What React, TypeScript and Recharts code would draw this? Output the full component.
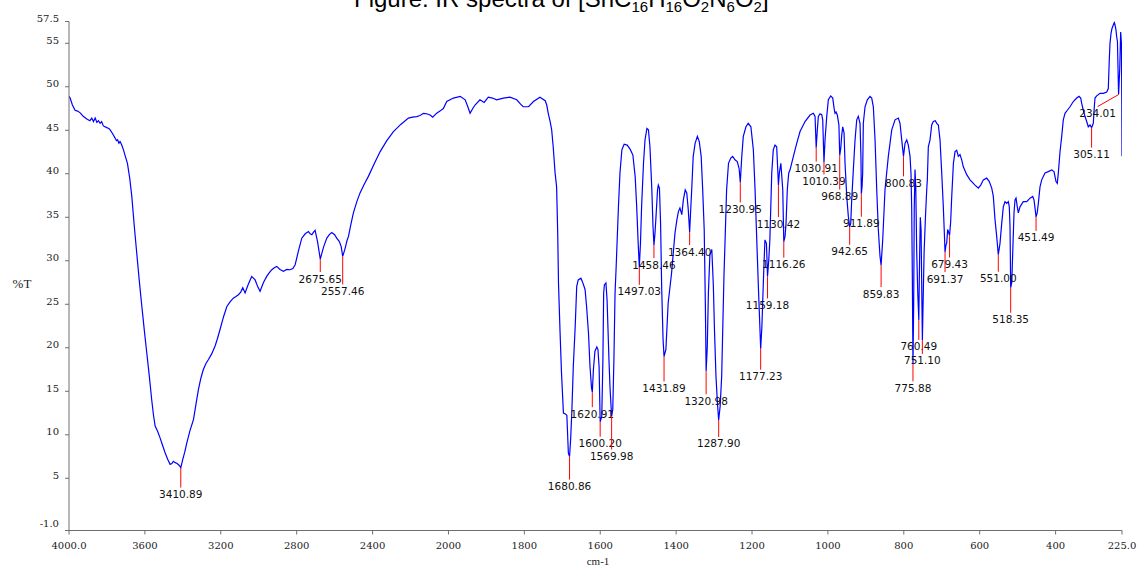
import React from 'react';
import { ComposedChart, Line, Scatter, XAxis, YAxis } from 'recharts';

// ---------- DATA ----------
const wavenumbers: number[] = [
  4000, 3994, 3982, 3968, 3955, 3941, 3925, 3906, 3890, 3880, 3871, 3862, 3853, 3845, 3836, 3828, 3819, 3801, 3790, 3783,
  3770, 3757, 3750, 3744, 3737, 3731, 3722, 3713, 3703, 3692, 3680, 3669, 3656, 3643, 3630, 3616, 3603, 3590, 3577, 3564,
  3555, 3546, 3533, 3520, 3507, 3493, 3480, 3467, 3458, 3450, 3440, 3430, 3420, 3410.89, 3400, 3390, 3379, 3362, 3344, 3330,
  3318, 3305, 3292, 3278, 3265, 3248, 3230, 3217, 3204, 3185, 3168, 3150, 3134, 3120, 3107, 3095, 3084, 3072, 3055, 3037,
  3028, 3019, 3005, 2993, 2975, 2958, 2945, 2931, 2918, 2905, 2888, 2870, 2852, 2835, 2820, 2808, 2790, 2773, 2755, 2738,
  2729, 2720, 2711, 2703, 2690, 2675.65, 2658, 2641, 2628, 2615, 2600, 2589, 2575, 2565, 2557.46, 2545, 2535, 2527, 2514, 2501,
  2483, 2466, 2444, 2422, 2390, 2360, 2325, 2290, 2250, 2211, 2190, 2167, 2150, 2132, 2115, 2097, 2083, 2070, 2062, 2045,
  2027, 2009,
  1987, 1969, 1956, 1949, 1943, 1936, 1930, 1917, 1906, 1895, 1884, 1873, 1855, 1838, 1820, 1810, 1803, 1789, 1776, 1759,
  1745, 1741, 1737, 1732, 1728, 1724, 1719, 1715, 1712, 1710, 1706, 1702, 1697, 1692, 1688, 1684, 1680.86, 1678, 1675, 1671,
  1666, 1662, 1658, 1651, 1647, 1640, 1636, 1631, 1627, 1623, 1620.91, 1618, 1614, 1609, 1606, 1603, 1600.2, 1596, 1593, 1591,
  1589, 1585, 1582, 1577, 1574, 1569.98, 1567, 1564, 1561, 1558, 1552, 1548, 1543, 1537, 1529, 1521, 1514, 1508, 1504, 1500,
  1497.03, 1494, 1491, 1486, 1482, 1477, 1473, 1469, 1464, 1461, 1458.46, 1456, 1453, 1449, 1447, 1444, 1441, 1438, 1434.5, 1431.89,
  1427, 1421, 1412, 1403, 1398, 1394, 1390, 1385, 1381, 1376, 1372, 1368, 1364.4, 1362, 1359, 1355, 1350, 1344, 1339, 1334,
  1330, 1326, 1323, 1320.98, 1318, 1315, 1311, 1306, 1302, 1299, 1295, 1291, 1287.9, 1284, 1280, 1277, 1274, 1271, 1267, 1262,
  1256, 1251, 1245, 1239, 1234, 1230.95, 1227, 1223, 1216, 1210, 1203, 1196.5, 1192, 1187.5, 1183, 1180, 1177.23, 1174, 1172, 1169,
  1166, 1162, 1159.18, 1156, 1153, 1148, 1144, 1139.5, 1135, 1130.42, 1128, 1124, 1119, 1116.26, 1113, 1110.4, 1107, 1103.3, 1099.8, 1091,
  1082.2, 1073.5, 1060.3, 1047.1, 1038.4, 1033.9, 1030.91, 1027.9, 1025.2, 1020.8, 1016.3, 1013.7, 1010.39, 1007.6, 1003.1, 998.9, 992.6, 987.3, 983.1, 981.2,
  978.6, 975.2, 971, 968.89, 966, 963.9, 961, 957.5, 954.9, 950.4, 946.2, 942.65, 939.9, 937.3, 933, 928.5, 924.1, 919.9, 915.4, 913,
  911.89, 910, 908.4, 906.7, 902.2, 896.1, 889, 884.6, 880.3, 875.8, 871.4, 867.2, 862.7, 859.83, 855.6, 849.5, 840.8, 831.8, 823.1, 814.5,
  810, 805.5, 800.83, 796.8, 792.3, 788.1, 783.6, 781, 779.2, 777.5, 775.88, 774, 772.5, 770.5, 768.5, 766, 763, 760.49, 758.5, 756.5,
  754.5, 752.5, 751.1, 749, 746.5, 743, 739.6, 738, 735.4, 730.9, 726.5, 722.2, 717, 713.3, 709, 704.6, 700.1, 695.9, 693, 691.37,
  689, 687, 684.4, 682, 679.43, 676.5, 673.7, 669.3, 665, 660.6, 656.3, 651.9, 647.4, 643.2, 634.2, 625.5, 612.3, 603.6, 597.3, 590.5,
  581.5, 574.7, 568.3, 564.1, 559.6, 555.2, 551, 546.5, 542, 537.8, 533.3, 528.8, 524.6, 522, 520.1, 518.35, 515.5, 513.3, 509.6, 507,
  504.3, 500.9, 498.2, 493.8, 485.1, 476.1, 467.4, 460.3, 456.9, 453.5, 451.49, 448.5, 445.5, 441.1, 436.6, 427.9, 419.2, 410.2, 404.2, 398.9,
  395.5, 392.8, 388.4, 383.9, 379.7, 375.2, 369.1, 362, 353.3, 344.4, 338.3, 333.8, 331.2, 327, 322.5, 318, 313.8, 309.3, 305.11, 300.6,
  298, 296.1, 291.7, 283, 274.3, 265.3, 261.1, 258.5, 256.6, 254, 251.4, 247.9, 245.3, 243.4, 240.8, 239, 237, 234.01, 231, 228.5,
  226.5, 225.5, 225,
];

const transmittance: number[] = [
  48.9, 48.7, 47.9, 47.3, 47.2, 47.0, 46.6, 46.3, 46.1, 46.4, 46.0, 46.4, 45.9, 46.1, 45.8, 46.0, 45.5, 45.3, 45.2, 45.05,
  44.6, 44.1, 43.8, 43.9, 43.5, 43.7, 43.3, 42.75, 42.0, 41.2, 39.5, 37.4, 34.0, 30.9, 27.8, 24.75, 22.0, 19.4, 16.8, 14.0,
  12.3, 11.0, 10.4, 9.65, 8.8, 7.9, 7.2, 6.6, 6.7, 6.95, 6.8, 6.7, 6.5, 6.23, 7.2, 8.0, 9.07, 10.5, 11.75, 13.6,
  15.2, 16.5, 17.5, 18.2, 18.65, 19.3, 20.2, 21.1, 22.1, 23.6, 24.75, 25.3, 25.7, 25.9, 26.1, 26.4, 26.9, 26.3, 27.3, 28.2,
  28.0, 27.8, 27.0, 26.5, 27.5, 28.2, 28.6, 28.97, 29.2, 29.35, 29.0, 28.8, 29.0, 28.97, 29.1, 29.55, 31.2, 32.6, 33.1, 33.35,
  33.1, 33.0, 33.3, 33.5, 32.2, 30.2, 31.6, 32.6, 33.0, 33.25, 33.0, 32.6, 32.2, 31.6, 30.5, 31.4, 32.3, 32.8, 34.2, 35.5,
  36.8, 37.8, 38.8, 39.7, 41.2, 42.55, 43.8, 44.85, 45.7, 46.4, 46.5, 46.57, 46.7, 46.95, 46.9, 46.75, 46.5, 46.8, 46.95, 47.2,
  47.5, 48.3,
  48.7, 48.9, 48.5, 47.7, 46.95, 47.5, 47.9, 48.5, 48.2, 48.8, 48.7, 48.5, 48.7, 48.8, 48.5, 48.0, 47.7, 47.7, 48.3, 48.8,
  48.4, 47.9, 46.95, 46.0, 45.05, 43.1, 40.1, 38.5, 33.0, 27.4, 21.9, 17.0, 12.5, 12.4, 12.25, 7.9, 7.5, 9.5, 12.5, 17.85,
  22.45, 27.05, 27.8, 28.0, 27.6, 26.7, 24.75, 21.7, 17.85, 15.4, 14.9, 17.5, 19.6, 20.1, 19.8, 17.8, 11.5, 12.1, 18.6, 26.3,
  27.25, 27.45, 25.5, 18.6, 15.2, 12.1, 12.9, 18.6, 26.3, 29.35, 36.25, 40.1, 42.75, 43.4, 43.3, 42.8, 42.15, 39.7, 36.25, 32.0,
  29.3, 32.0, 36.25, 41.2, 43.9, 45.2, 45.05, 43.1, 38.15, 34.0, 31.8, 33.0, 35.1, 38.15, 38.7, 38.35, 34.3, 26.7, 21.0, 19.0,
  19.8, 25.15, 28.6, 33.2, 34.7, 35.65, 36.05, 35.3, 37.0, 38.15, 37.8, 35.85, 33.3, 35.5, 38.15, 42.0, 43.5, 44.3, 43.7, 42.0,
  38.15, 33.55, 25.0, 17.3, 20.0, 26.3, 30.7, 31.3, 27.25, 22.1, 16.7, 13.5, 11.7, 13.3, 16.7, 22.45, 28.2, 32.4, 38.15, 41.2,
  41.8, 42.0, 41.6, 41.4, 40.6, 39.0, 42.0, 44.3, 45.4, 45.8, 45.4, 42.75, 38.15, 32.4, 26.7, 23.2, 19.9, 22.45, 25.15, 29.0,
  32.4, 32.0, 28.2, 30.0, 32.4, 40.1, 42.75, 43.3, 43.1, 38.7, 40.1, 41.2, 38.15, 32.2, 32.8, 34.3, 38.2, 40.1, 40.45, 42.0,
  43.5, 44.85, 46.0, 46.75, 46.95, 46.6, 43.0, 45.05, 46.6, 46.9, 46.8, 46.2, 41.3, 43.9, 46.6, 48.5, 48.95, 48.7, 47.35, 46.95,
  47.1, 46.75, 45.6, 42.1, 43.0, 44.3, 45.4, 44.7, 41.2, 37.4, 35.1, 33.9, 34.3, 37.0, 40.45, 43.9, 46.2, 46.6, 45.8, 42.0,
  37.7, 38.5, 40.1, 45.8, 47.7, 48.5, 48.9, 48.7, 47.7, 43.9, 38.2, 33.6, 30.5, 29.5, 32.4, 38.2, 42.0, 45.05, 46.2, 46.4,
  45.8, 43.9, 42.0, 43.5, 43.9, 43.3, 42.0, 40.0, 36.0, 28.0, 18.1, 25.0, 36.0, 40.5, 38.5, 31.0, 26.0, 23.2, 30.0, 35.0,
  33.5, 26.0, 20.9, 25.5, 31.0, 35.0, 38.2, 39.3, 43.1, 43.9, 45.6, 46.0, 46.1, 45.8, 45.6, 43.9, 40.1, 36.2, 33.0, 31.0,
  31.8, 32.0, 33.6, 33.3, 32.9, 34.5, 37.4, 41.2, 42.55, 42.7, 42.0, 42.2, 41.6, 40.8, 39.9, 39.3, 38.7, 38.35, 38.7, 39.3,
  39.5, 39.1, 38.35, 37.4, 34.7, 32.8, 30.7, 32.0, 34.3, 36.2, 36.8, 36.6, 36.8, 36.2, 33.9, 26.9, 27.5, 30.5, 35.5, 37.0,
  37.2, 36.2, 35.5, 36.2, 36.8, 36.8, 37.2, 37.4, 37.0, 35.8, 35.05, 35.5, 36.6, 38.5, 39.3, 40.1, 40.25, 40.45, 40.25, 39.1,
  38.9, 40.1, 42.5, 44.3, 46.2, 46.95, 47.3, 47.7, 48.3, 48.7, 48.9, 48.7, 48.1, 47.3, 46.6, 46.0, 45.4, 45.6, 45.3, 45.8,
  47.7, 48.7, 48.95, 49.25, 49.25, 49.4, 49.8, 53.1, 55.0, 56.1, 56.7, 57.1, 57.4, 57.1, 56.5, 55.75, 55.2, 49.1, 52.0, 56.3,
  55.0, 48.0, 42.0,
];

const peakWavenumbers: number[] = [
  3410.89, 2675.65, 2557.46, 1680.86, 1620.91, 1600.2, 1569.98, 1497.03, 1458.46, 1431.89,
  1364.4, 1320.98, 1287.9, 1230.95, 1177.23, 1159.18, 1130.42, 1116.26, 1030.91, 1010.39,
  968.89, 942.65, 911.89, 859.83, 800.83, 775.88, 760.49, 751.1, 691.37, 679.43,
  551.0, 518.35, 451.49, 305.11, 234.01,
];
const peakTransmittance: number[] = [
  6.23, 30.2, 30.5, 7.5, 14.9, 11.5, 12.1, 29.3, 31.8, 19.0,
  33.3, 17.3, 11.7, 39.0, 19.9, 28.2, 38.7, 32.2, 43.0, 41.3,
  42.1, 33.9, 37.7, 29.5, 42.0, 18.1, 23.2, 20.9, 31.0, 32.9,
  30.7, 26.9, 35.05, 45.3, 49.1,
];

const xTickWavenumbers: number[] = [4000, 3600, 3200, 2800, 2400, 2000, 1800, 1600, 1400, 1200, 1000, 800, 600, 400, 225];
const yTickValues: number[] = [-1, 5, 10, 15, 20, 25, 30, 35, 40, 45, 50, 55, 57.5];

// ---------- LAYOUT (pixels) ----------
const peakLabelDrop: number[] = [
  20, 13, 28, 23, 15, 15, 33, 18, 13, 25,
  13, 23, 17, 20, 21, 22, 32, 16, 14, 12,
  34, 18, 23, 22, 20, 17, 20, 14, 20, 22,
  17, 25, 14, 20, 12,
];
const peakLabelShift: number[] = [
  0, 0, 0, 0, 0, 0, 0, 0, 0, 0,
  0, 0, 0, 0, 0, 0, 0, 0, 0, 0,
  0, 0, 0, 0, 0, 0, 0, 0, 0, 0,
  0, 0, 0, 0, -21,
];

// The wavenumber axis is compressed by 2x above 2000 cm-1 (instrument convention)
const BREAK = 2000;
const toAxis = (w: number) => (w <= BREAK ? w : BREAK + (w - BREAK) / 2);
const fromAxis = (u: number) => (u <= BREAK ? u : BREAK + (u - BREAK) * 2);

const spectrum = wavenumbers.map((w, i) => ({ x: toAxis(w), t: transmittance[i] }));
const peaks = peakWavenumbers.map((w, i) => ({
  x: toAxis(w),
  t: peakTransmittance[i],
  label: w.toFixed(2),
  drop: peakLabelDrop[i],
  shift: peakLabelShift[i],
}));

const AXIS_COLOR = '#6e6e6e';
const TICK_FONT = '"DejaVu Serif", "Liberation Serif", serif';
const LABEL_FONT = '"DejaVu Sans", Verdana, sans-serif';

const XTick = (props: any) => {
  const { x, y, payload } = props;
  const w = Math.round(fromAxis(payload.value));
  const txt = w === 4000 || w === 225 ? w.toFixed(1) : String(w);
  return (
    <text x={x} y={y + 9} textAnchor="middle" dominantBaseline="central" fontFamily={TICK_FONT} fontSize={10} fill="#222">
      {txt}
    </text>
  );
};

const YTick = (props: any) => {
  const { x, y, payload } = props;
  const v = payload.value;
  const txt = v === -1 ? '-1.0' : String(v);
  const dy = v === -1 ? -7 : -3;
  return (
    <text x={x - 4} y={y + dy} textAnchor="end" dominantBaseline="central" fontFamily={TICK_FONT} fontSize={10} fill="#222">
      {txt}
    </text>
  );
};

const PeakMark = (props: any) => {
  const { cx, cy, payload } = props;
  if (cx == null || cy == null) return null;
  const dx = payload.shift;
  const x2 = cx + dx;
  const y2 = cy + payload.drop;
  return (
    <g>
      <line x1={cx} y1={cy} x2={x2} y2={y2} stroke="#ff0000" strokeWidth={1} />
      <text x={x2} y={y2 + 10.5} textAnchor="middle" fontFamily={LABEL_FONT} fontSize={10.5} fill="#111">
        {payload.label}
      </text>
    </g>
  );
};

export default function App() {
  return (
    <div style={{ position: 'absolute', left: 0, top: 0, width: 1141, height: 569, background: '#fff', overflow: 'hidden' }}>
      <ComposedChart
        width={1141}
        height={569}
        data={spectrum}
        margin={{ top: 21.5, right: 19, bottom: 8.5, left: 0 }}
      >
        <XAxis
          type="number"
          dataKey="x"
          domain={[225, 3000]}
          reversed
          allowDataOverflow
          ticks={xTickWavenumbers.map(toAxis)}
          interval={0}
          tick={<XTick />}
          tickSize={4}
          tickMargin={2}
          height={30}
          stroke={AXIS_COLOR}
          tickLine={{ stroke: AXIS_COLOR }}
        />
        <YAxis
          type="number"
          domain={[-1, 57.5]}
          allowDataOverflow
          ticks={yTickValues}
          interval={0}
          tick={<YTick />}
          tickSize={4}
          tickMargin={2}
          width={69}
          stroke={AXIS_COLOR}
          tickLine={{ stroke: AXIS_COLOR }}
        />
        <Line
          type="linear"
          dataKey="t"
          stroke="#0000ff"
          strokeWidth={1.2}
          dot={false}
          activeDot={false}
          isAnimationActive={false}
        />
        <Scatter data={peaks} dataKey="t" shape={<PeakMark />} isAnimationActive={false} />
      </ComposedChart>
      <svg
        width={1141}
        height={569}
        style={{ position: 'absolute', left: 0, top: 0, pointerEvents: 'none' }}
      >
        <text x={354} y={7} fontFamily='"Liberation Sans", Arial, sans-serif' fontSize={24} fill="#000">
          Figure: IR spectra of [SnC
          <tspan dy={5} fontSize={15}>16</tspan>
          <tspan dy={-5}>H</tspan>
          <tspan dy={5} fontSize={15}>16</tspan>
          <tspan dy={-5}>O</tspan>
          <tspan dy={5} fontSize={15}>2</tspan>
          <tspan dy={-5}>N</tspan>
          <tspan dy={5} fontSize={15}>6</tspan>
          <tspan dy={-5}>O</tspan>
          <tspan dy={5} fontSize={15}>2</tspan>
          <tspan dy={-5}>]</tspan>
        </text>
        <text x={22} y={283} textAnchor="middle" dominantBaseline="central" fontFamily='"Liberation Serif", serif' fontSize={13} fill="#222">
          %T
        </text>
        <text x={598} y={561} textAnchor="middle" dominantBaseline="central" fontFamily='"Liberation Serif", serif' fontSize={11} fill="#222">
          cm-1
        </text>
      </svg>
    </div>
  );
}
